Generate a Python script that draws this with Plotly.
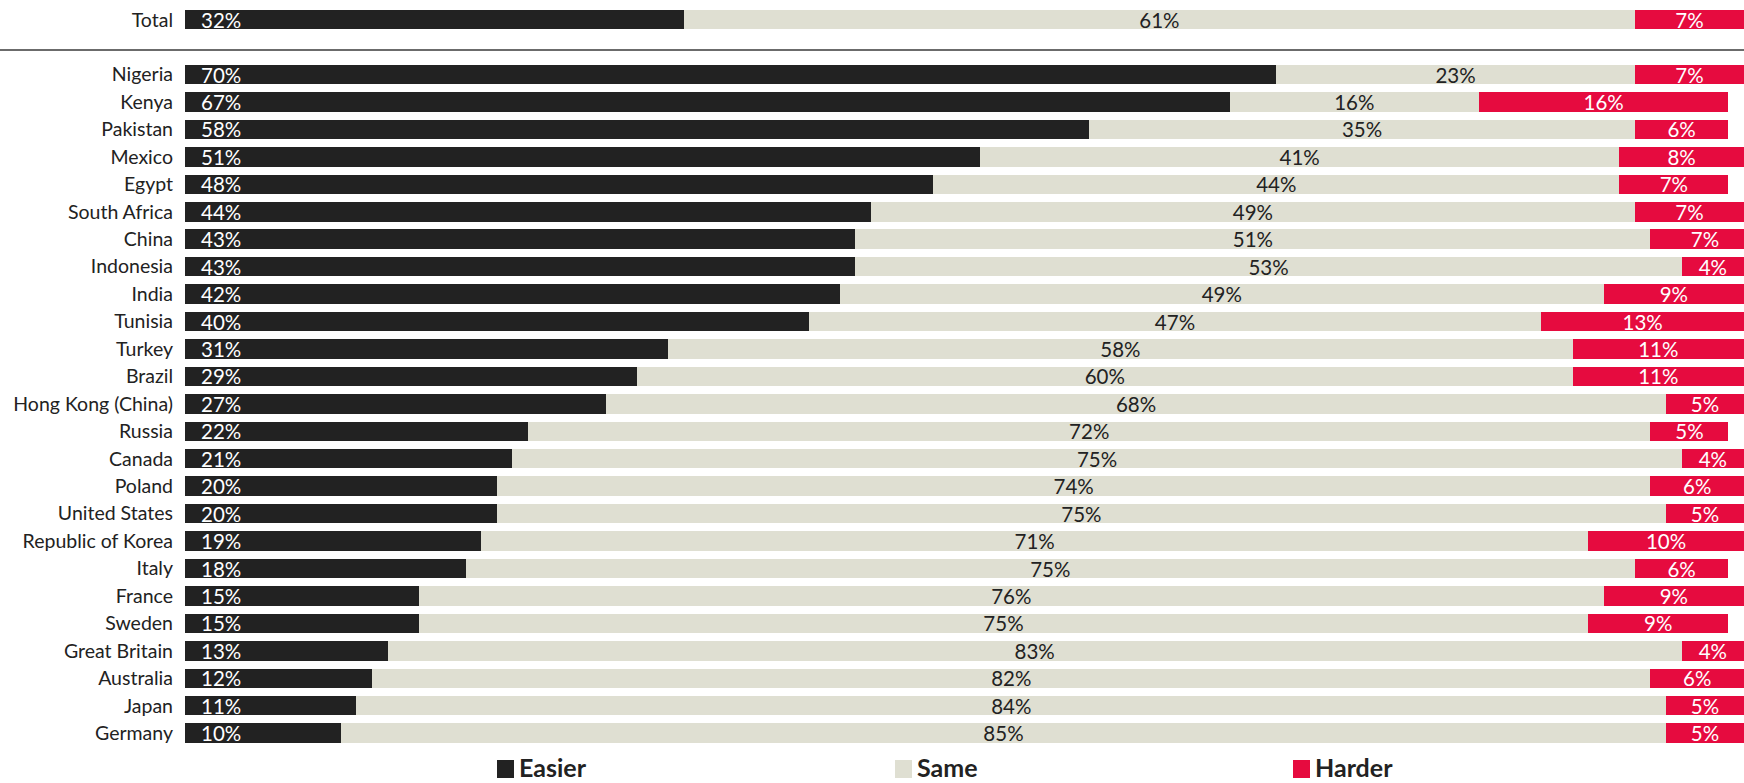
import plotly.graph_objects as go

# ---- data ----
categories = ["Total", "Nigeria", "Kenya", "Pakistan", "Mexico", "Egypt", "South Africa", "China",
              "Indonesia", "India", "Tunisia", "Turkey", "Brazil", "Hong Kong (China)", "Russia",
              "Canada", "Poland", "United States", "Republic of Korea", "Italy", "France", "Sweden",
              "Great Britain", "Australia", "Japan", "Germany"]
easier = [32, 70, 67, 58, 51, 48, 44, 43, 43, 42, 40, 31, 29, 27, 22, 21, 20, 20, 19, 18, 15, 15, 13, 12, 11, 10]
same = [61, 23, 16, 35, 41, 44, 49, 51, 53, 49, 47, 58, 60, 68, 72, 75, 74, 75, 71, 75, 76, 75, 83, 82, 84, 85]
harder = [7, 7, 16, 6, 8, 7, 7, 7, 4, 9, 13, 11, 11, 5, 5, 4, 6, 5, 10, 6, 9, 9, 4, 6, 5, 5]
series_names = ["Easier", "Same", "Harder"]

# ---- style ----
C_EASY = "#222222"
C_SAME = "#DFDFD2"
C_HARD = "#E60B3F"
FONT = "Lato"

# row positions: Total on top, a gap, then countries
pos = [0] + [i + 2 for i in range(len(categories) - 1)]

W, H = 1744, 783
L = 185
pitch = 27.44
ymin = -19.7 / pitch
ymax = ymin + H / pitch
BW = 0.71

fig = go.Figure()
fig.add_trace(go.Bar(
    name=series_names[0], y=pos, x=easier, orientation="h", width=BW,
    marker=dict(color=C_EASY, line=dict(width=0)), hoverinfo="x+name"))
fig.add_trace(go.Bar(
    name=series_names[1], y=pos, x=same, orientation="h", width=BW,
    marker=dict(color=C_SAME, line=dict(width=0)),
    text=[f"{v}%" for v in same], textposition="inside", insidetextanchor="middle",
    constraintext="none", textangle=0,
    textfont=dict(family=FONT, size=20.5, color="#222222")))
fig.add_trace(go.Bar(
    name=series_names[2], y=pos, x=harder, orientation="h", width=BW,
    marker=dict(color=C_HARD, line=dict(width=0)),
    text=[f"{v}%" for v in harder], textposition="inside", insidetextanchor="middle",
    constraintext="none", textangle=0,
    textfont=dict(family=FONT, size=20.5, color="white")))

# Easier labels at the start of each bar
for p, v in zip(pos, easier):
    fig.add_annotation(x=0, y=p, xref="x", yref="y", text=f"{v}%", showarrow=False,
                       xanchor="left", xshift=14, yshift=0,
                       font=dict(family=FONT, size=20.5, color="white"))

# separator line under Total
fig.add_shape(type="line", xref="paper", yref="y", x0=-L / (W - L), x1=1,
              y0=ymin + 50 / pitch, y1=ymin + 50 / pitch,
              line=dict(color="#6B6B6B", width=2))

# custom legend
leg_x = [497, 895, 1293]
leg_col = [C_EASY, C_SAME, C_HARD]
pw = W - L
for name, px, col in zip(series_names, leg_x, leg_col):
    fig.add_shape(type="rect", xref="paper", yref="paper",
                  x0=(px - L) / pw, x1=(px + 17 - L) / pw,
                  y0=1 - 778 / H, y1=1 - 760 / H,
                  fillcolor=col, line=dict(width=0))
    fig.add_annotation(xref="paper", yref="paper", x=(px + 21 - L) / pw, y=1 - 767 / H,
                       text=f"<b>{name}</b>", showarrow=False, xanchor="left", yanchor="middle",
                       borderpad=0, font=dict(family=FONT, size=25, color="#222222"))

fig.update_layout(
    width=W, height=H, autosize=False, barmode="stack", showlegend=False,
    margin=dict(l=L, r=0, t=0, b=0, pad=0, autoexpand=False),
    paper_bgcolor="white", plot_bgcolor="white",
    font=dict(family=FONT, color="#222222"),
)
fig.update_xaxes(range=[0, 100], autorange=False, visible=False, fixedrange=True)
fig.update_yaxes(range=[ymax, ymin], autorange=False, tickmode="array", tickvals=pos,
                 ticktext=categories, showgrid=False, zeroline=False, showline=False, ticks="",
                 ticklabelstandoff=11, automargin=False, fixedrange=True,
                 tickfont=dict(family=FONT, size=19.5, color="#222222"))

fig.write_html("out.html", config={"responsive": False, "displayModeBar": False},
               post_script="document.body.style.margin='0';document.body.style.overflow='hidden';")
